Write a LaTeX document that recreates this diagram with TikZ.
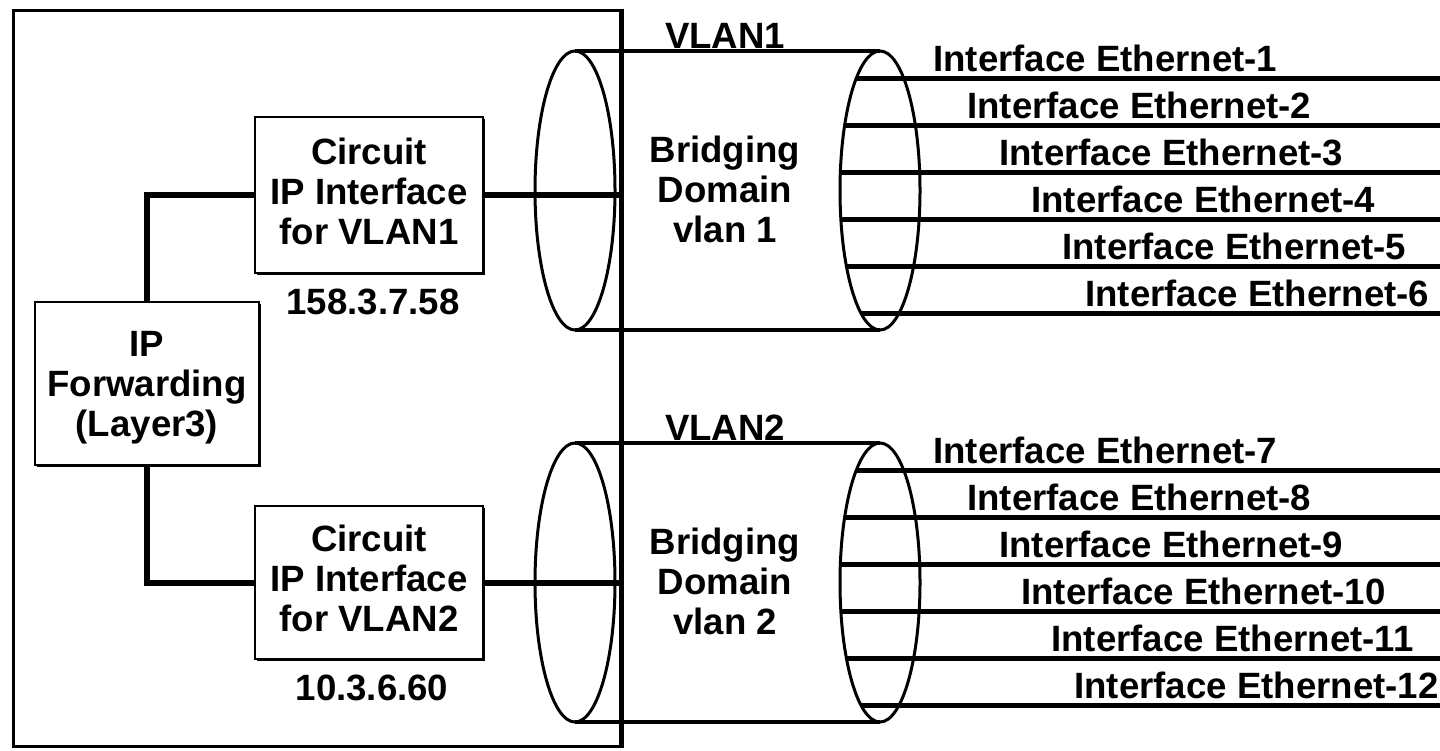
\documentclass[tikz,border=0pt]{standalone}
\usepackage{fontspec}
\setmainfont{Liberation Sans}
\usetikzlibrary{shapes.geometric,shadows}

\tikzset{
  txt/.style={font=\bfseries\fontsize{18.3}{20}\selectfont, inner sep=0pt, align=center},
  unitbox/.style={txt, draw, line width=1.4pt, fill=white, inner sep=2pt,
    minimum width=114pt, minimum height=78pt, text depth=4pt,
    general shadow={fill=black, shadow xshift=0.8pt, shadow yshift=-0.8pt}},
  cylend/.style={ellipse, draw, line width=1.5pt, minimum width=40pt,
    minimum height=139.5pt, inner sep=0pt, outer sep=0pt},
  rim/.style={line width=1.6pt},
  wire/.style={line width=3pt},
  port/.style={line width=2.8pt},
}

\begin{document}
\begin{tikzpicture}[x=0.5pt,y=-0.5pt]
\useasboundingbox (0,0) rectangle (1440,750);
\fill[white] (0,0) rectangle (1440,750);

% router chassis
\node[draw, line width=1.5pt, minimum width=303.5pt, minimum height=368pt,
  inner sep=0pt] (outer) at (316.5,378) {};
\draw[line width=2.8pt] (outer.north east) -- (outer.south east);

% layer-3 blocks
\node[unitbox, minimum width=112pt, minimum height=81.5pt, text depth=0pt]
  (ipf) at (147,383.5) {IP\\Forwarding\\(Layer3)};
\node[unitbox] (cif1) at (369,195) {Circuit\\IP Interface\\for VLAN1};
\node[unitbox, minimum height=76.5pt] (cif2) at (369,582.5) {Circuit\\IP Interface\\for VLAN2};
\node[txt] (addr1) at (373,302) {158.3.7.58};
\node[txt] (addr2) at (372,688) {10.3.6.60};

\draw[wire] (ipf.north) |- (cif1.west);
\draw[wire] (ipf.south) |- (cif2.west);
\draw[wire] (cif1.east) -- (cif1.east -| outer.east);
\draw[wire] (cif2.east) -- (cif2.east -| outer.east);

% bridging domains drawn as cylinders
\foreach \g/\dy in {1/0,2/392}{
  \node[cylend] (el\g) at (575,190.5+\dy) {};
  \node[cylend] (er\g) at (880,190.5+\dy) {};
  \draw[rim] (el\g.north) -- (er\g.north);
  \draw[rim] (el\g.south) -- (er\g.south);
  \node[txt] (bd\g) at (725,189.5+\dy) {Bridging\\Domain\\vlan \g};
  \node[txt] (vl\g) at (725,36+\dy) {VLAN\g};
}

% member Ethernet interfaces
\foreach \n/\tx in {1/933,2/967,3/999,4/1031,5/1062,6/1085,
                    7/933,8/967,9/999,10/1021,11/1051,12/1074}{
  \pgfmathtruncatemacro\k{mod(\n-1,6)}
  \pgfmathtruncatemacro\g{(\n-1)/6}
  \pgfmathsetmacro\ly{78.5+47*\k+392*\g}
  \pgfmathsetmacro\cy{190.5+392*\g}
  \pgfmathsetmacro\xs{880-40*sqrt(1-((\ly-\cy)/139.5)^2)}
  \coordinate (pa\n) at (\xs,\ly);
  \coordinate (pb\n) at (1440,\ly);
  \draw[port] (pa\n) -- (pb\n);
  \node[txt, anchor=base west] (eth\n) at (\tx,\ly-7) {Interface Ethernet-\n};
}
\end{tikzpicture}
\end{document}
